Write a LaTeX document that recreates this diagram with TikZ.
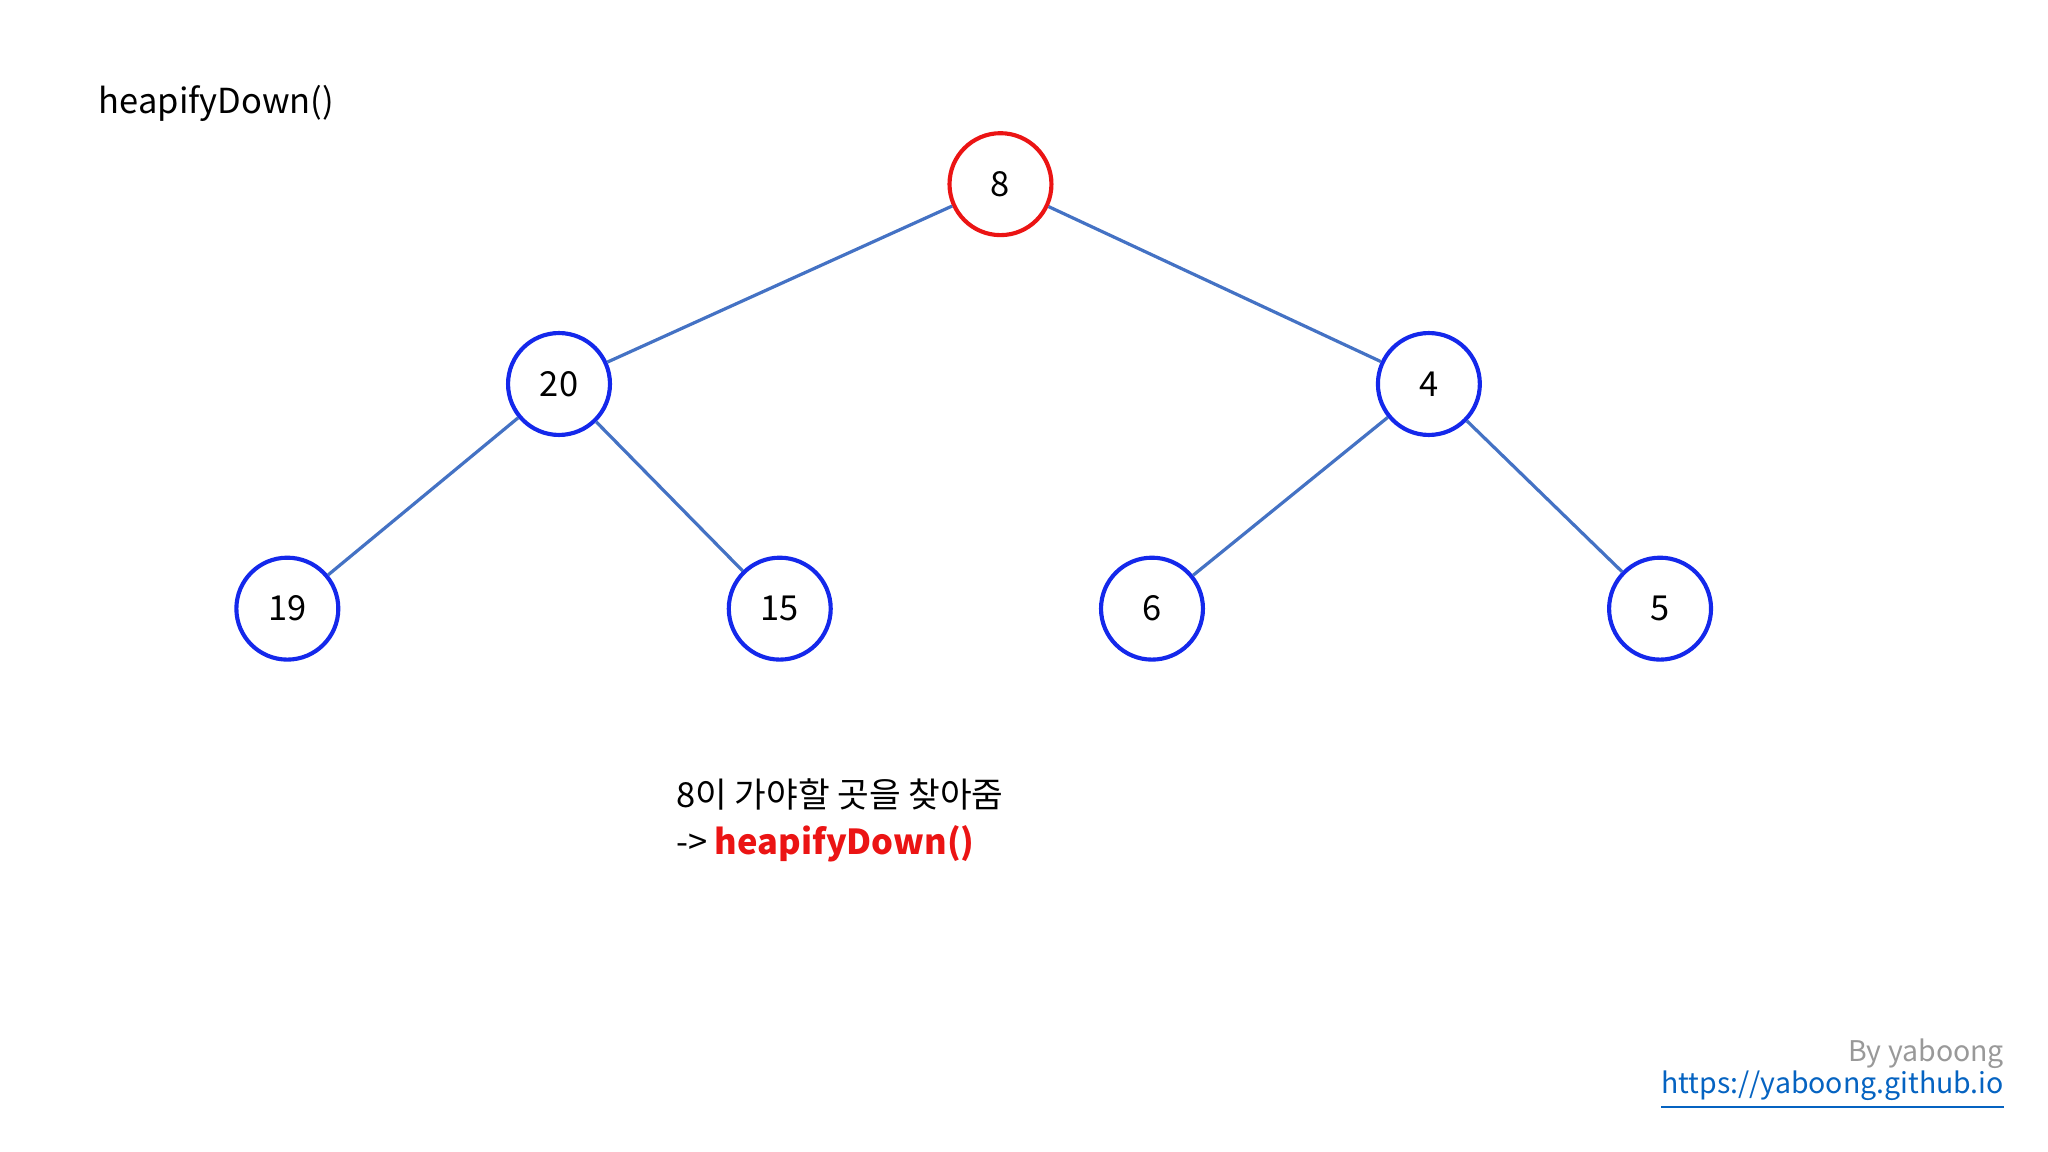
\documentclass[tikz,border=0pt]{standalone}
\usepackage{fontspec}
\setmainfont{Noto Sans CJK KR}
\definecolor{edgeblue}{RGB}{68,114,196}
\definecolor{nodeblue}{RGB}{20,40,235}
\definecolor{nodered}{RGB}{235,20,20}
\definecolor{linkblue}{RGB}{5,99,193}
\begin{document}
\begin{tikzpicture}[x=0.01cm,y=-0.01cm,
  hnode/.style={circle,draw=nodeblue,line width=0.9pt,minimum size=0.78cm,inner sep=0pt,font=\fontsize{7.5pt}{9pt}\selectfont},
  rootnode/.style={hnode,draw=nodered},
  tedge/.style={draw=edgeblue,line width=0.7pt},
  txt/.style={font=\fontsize{7.5pt}{9pt}\selectfont,inner sep=0pt}]
\useasboundingbox (0,0) rectangle (1568,882);
\node[txt,anchor=west] (title) at (75,79) {heapifyDown()};
\node[rootnode] (n8) at (766,141) {8};
\node[hnode] (n20) at (428,294) {20};
\node[hnode] (n4) at (1094,294) {4};
\node[hnode] (n19) at (220,466) {19};
\node[hnode] (n15) at (597,466) {15};
\node[hnode] (n6) at (882,466) {6};
\node[hnode] (n5) at (1271,466) {5};
\draw[tedge] (n8) -- (n20);
\draw[tedge] (n8) -- (n4);
\draw[tedge] (n20) -- (n19);
\draw[tedge] (n20) -- (n15);
\draw[tedge] (n4) -- (n6);
\draw[tedge] (n4) -- (n5);
\node[txt,anchor=west] (msg1) at (517,608) {8이 가야할 곳을 찾아줌};
\node[txt,anchor=west] (msg2) at (517,646) {-> \textcolor{nodered}{\bfseries heapifyDown()}};
\node[txt,anchor=east,text=gray!80,font=\fontsize{6.2pt}{7pt}\selectfont] (by) at (1535,807) {By yaboong};
\node[txt,anchor=east,text=linkblue,font=\fontsize{6.2pt}{7pt}\selectfont] (url) at (1535,835) {\underline{https://yaboong.github.io}};
\end{tikzpicture}
\end{document}
